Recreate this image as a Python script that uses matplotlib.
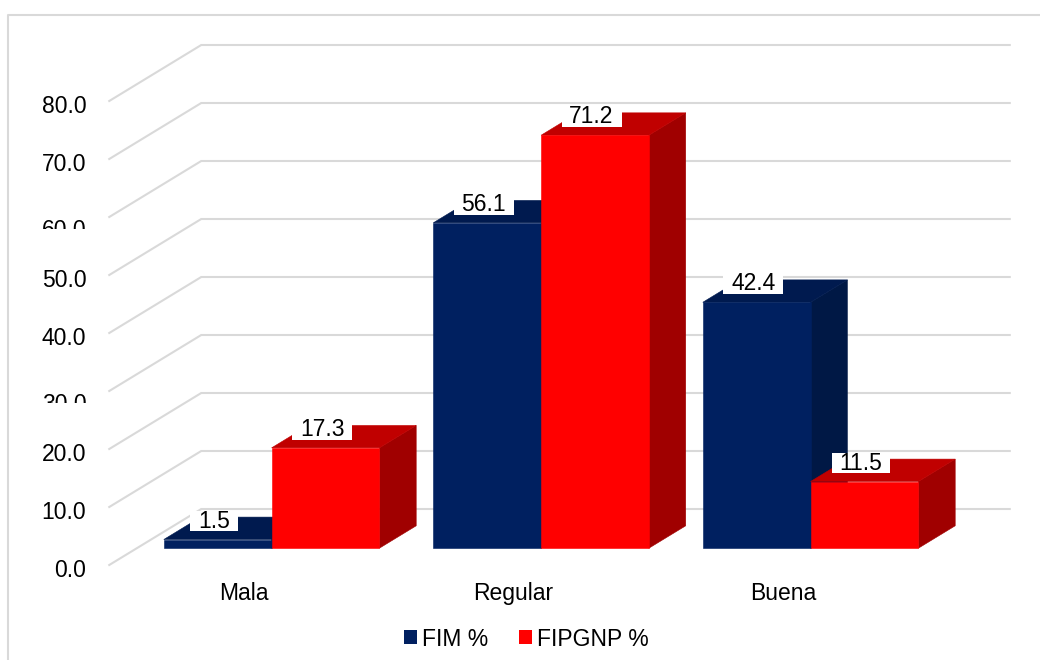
import matplotlib
matplotlib.use("Agg")
import matplotlib.pyplot as plt
from matplotlib.patches import Polygon, Patch
from matplotlib.path import Path
from matplotlib.lines import Line2D
from matplotlib.transforms import Bbox, TransformedBbox

# ---- data -------------------------------------------------------------
categories = ["Mala", "Regular", "Buena"]
series_names = ["FIM %", "FIPGNP %"]
fim_values = [1.5, 56.1, 42.4]
fipgnp_values = [17.3, 71.2, 11.5]
y_ticks = [0, 10, 20, 30, 40, 50, 60, 70, 80]
tick_labels = ["0.0", "10.0", "20.0", "30.0", "40.0", "50.0", "60.0", "70.0", "80.0"]

# ---- styling ----------------------------------------------------------
FONT = ["Liberation Sans", "DejaVu Sans"]
FS = 16.5
GRID = "#D9D9D9"
# (front, top, side) shades of each series
SHADES = [("#002060", "#001A4F", "#001845"),
          ("#FF0000", "#C00000", "#A00000")]

plt.rcParams["font.family"] = FONT

W_PX, H_PX = 1040, 660
fig = plt.figure(figsize=(W_PX / 100, H_PX / 100), dpi=100)
fig.patch.set_facecolor("white")
ax = fig.add_axes([0, 0, 1, 1])
ax.set_axis_off()

# front-plane scale: category 0 sits at 244 px, value 0 at 565 px
X0_PX, CAT_PX = 244.0, 269.5
Y0_PX, VAL_PX = 565.0, 5.8
ax.set_xlim(-X0_PX / CAT_PX, (W_PX - X0_PX) / CAT_PX)
ax.set_ylim((Y0_PX - H_PX) / VAL_PX, Y0_PX / VAL_PX)

# oblique depth of the plot box (back wall offset)
DX = 92.0 / CAT_PX
DY = 56.0 / VAL_PX
X_MIN, X_MAX = -0.5, 2.5
BAR_W = 0.4
F_FRONT, F_BACK = 0.30, 0.70


def proj(x, y, f):
    return (x + f * DX, y + f * DY)


# gridlines on side wall and back wall
for v in y_ticks:
    pts = [proj(X_MIN, v, 0), proj(X_MIN, v, 1), proj(X_MAX, v, 1)]
    ax.plot([p[0] for p in pts], [p[1] for p in pts], color=GRID, lw=1.5,
            solid_joinstyle="miter", zorder=1)

# value axis labels (two of them are partly hidden, as in the layout)
TRUNCATED = {60: 2.0, 30: 2.0}
for v, lab in zip(y_ticks, tick_labels):
    drop = 8.6 + (5.8 if v in TRUNCATED else 0)
    t = ax.annotate(lab, xy=proj(X_MIN, v, 0), xytext=(-16.5, -drop),
                    textcoords="offset points", ha="right", va="baseline",
                    fontsize=FS, color="#000000", zorder=3)
    if v in TRUNCATED:
        cb = TransformedBbox(Bbox([[ax.get_xlim()[0], v - TRUNCATED[v]],
                                   [ax.get_xlim()[1], ax.get_ylim()[1]]]),
                             ax.transData)
        t.set_clip_box(cb)
        t.set_clip_on(True)


def label_box(x0, y0, width, height, mutation_size):
    padx = 0.34 * mutation_size
    pady = -0.06 * mutation_size
    xa, xb = x0 - padx, x0 + width + padx
    ya, yb = y0 - pady, y0 + height + pady
    return Path([(xa, ya), (xb, ya), (xb, yb), (xa, yb), (xa, ya)],
                [Path.MOVETO, Path.LINETO, Path.LINETO, Path.LINETO,
                 Path.CLOSEPOLY])


def draw_bar(xl, xr, h, shades, z):
    front, top, side = shades
    faces = [
        ([proj(xr, 0, F_FRONT), proj(xr, 0, F_BACK), proj(xr, h, F_BACK),
          proj(xr, h, F_FRONT)], side),
        ([proj(xl, h, F_FRONT), proj(xr, h, F_FRONT), proj(xr, h, F_BACK),
          proj(xl, h, F_BACK)], top),
        ([proj(xl, 0, F_FRONT), proj(xr, 0, F_FRONT), proj(xr, h, F_FRONT),
          proj(xl, h, F_FRONT)], front),
    ]
    for pts, c in faces:
        ax.add_patch(Polygon(pts, closed=True, facecolor=c, edgecolor=c,
                             lw=0.4, zorder=z))


series = [fim_values, fipgnp_values]
z = 5
labels_to_draw = []
for i, cat in enumerate(categories):
    for s, vals in enumerate(series):
        xl = i - BAR_W + s * BAR_W
        xr = xl + BAR_W
        draw_bar(xl, xr, vals[i], SHADES[s], z)
        z += 1
        labels_to_draw.append((proj((xl + xr) / 2, vals[i], F_FRONT), vals[i]))

for (xy, v) in labels_to_draw:
    ax.annotate(f"{v:.1f}", xy=xy, xytext=(-2.5, 8.6),
                textcoords="offset points", ha="center", va="baseline",
                fontsize=FS, color="#000000", zorder=50,
                bbox=dict(boxstyle=label_box, facecolor="white",
                          edgecolor="none"))

# category labels on the front edge of the floor
for i, cat in enumerate(categories):
    ax.annotate(cat, xy=(i, 0), xytext=(0, -25.2), textcoords="offset points",
                ha="center", va="baseline", fontsize=FS, color="#000000")

# legend
handles = [Patch(facecolor=SHADES[s][0], edgecolor="none", label=series_names[s])
           for s in range(2)]
fig.legend(handles=handles, loc="center left", ncol=2, frameon=False,
           bbox_to_anchor=(404 / W_PX, 1 - 639 / H_PX), fontsize=FS,
           handlelength=0.57, handleheight=0.57, handletextpad=0.22,
           columnspacing=1.35, borderpad=0, borderaxespad=0)

# chart area border (top and left edges)
fig.add_artist(Line2D([8 / W_PX, 8 / W_PX, 1.0], [0.0, 1 - 15 / H_PX, 1 - 15 / H_PX],
                      transform=fig.transFigure, color=GRID, lw=1.5))

fig.savefig("out.png", dpi=100, facecolor="white")
